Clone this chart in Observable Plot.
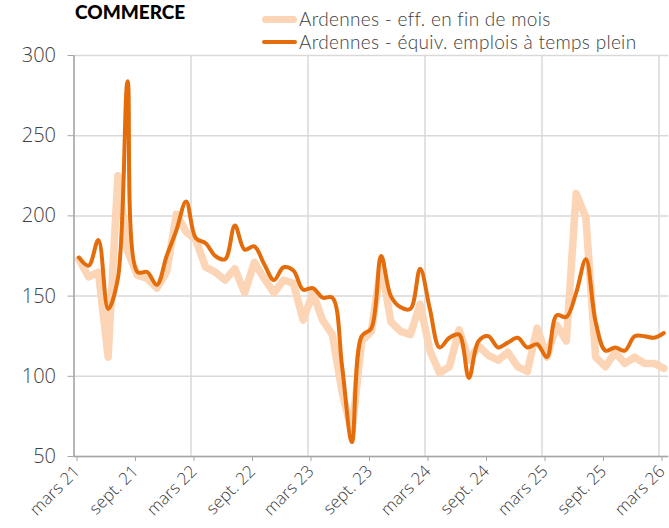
<!DOCTYPE html>
<html><head><meta charset="utf-8">
<script src="https://cdn.jsdelivr.net/npm/d3@7"></script>
<script src="https://cdn.jsdelivr.net/npm/@observablehq/plot@0.6"></script>
<style>
body{margin:0;background:#fff;}
#wrap{position:relative;width:669px;height:528px;font-family:"Open Sans",sans-serif;}
#title{position:absolute;left:75px;top:0px;line-height:24px;font-family:Lato,"Open Sans",sans-serif;font-weight:900;font-size:19px;letter-spacing:0px;color:#000;}
.leg{position:absolute;left:262px;height:20px;line-height:20px;display:flex;align-items:center;font-family:Lato,sans-serif;font-weight:300;font-size:19px;letter-spacing:0.3px;color:#404040;white-space:nowrap;}
.sw{display:inline-block;width:35px;margin-right:2px;border-radius:4px;}
</style></head><body>
<div id="wrap"><div id="chart"></div></div>
<script>
// Data (monthly, March 2021 -> March 2026)
const tickLabels = ["mars 21","sept. 21","mars 22","sept. 22","mars 23","sept. 23","mars 24","sept. 24","mars 25","sept. 25","mars 26"];
const seriesNames = ["Ardennes - eff. en fin de mois","Ardennes - équiv. emplois à temps plein"];
const effFinMois = [173,162,165,112,225,178,163,161,155,165,201,190,185,168,165,160,167,152,171,161,152,160,158,135,152,135,126,90,65,122,128,170,134,128,126,145,116,102,106,129,110,119,113,110,115,106,103,130,112,132,122,214,199,112,106,115,108,112,108,108,105];
const etpEquiv = [174,169,185,142,161,284,165,165,157,175,191,209,186,183,175,173,194,179,181,170,160,168,166,154,155,149,149,106,59,125,130,175,150,143,142,167,142,118,124,126,99,122,125,118,121,124,118,120,112,138,137,152,173,134,116,118,116,125,125,124,127];
const yTicks = [50,100,150,200,250,300];

const n = effFinMois.length;
const tickMonths = tickLabels.map((_, k) => k * 6);
const gridMonths = tickMonths.filter(m => m % 12 === 0);
const rows = (arr) => arr.map((v, i) => ({m: i + 0.5, v}));

const chart = Plot.plot({
  width: 669, height: 528,
  marginTop: 55, marginBottom: 72, marginLeft: 73.5, marginRight: 0.75,
  style: {fontFamily: "Open Sans, sans-serif", background: "white"},
  x: {type: "linear", domain: [0, n]},
  y: {domain: [50, 300]},
  marks: [
    Plot.gridY(yTicks, {stroke: "#d9d9d9", strokeOpacity: 1, strokeWidth: 1.5}),
    Plot.gridX(gridMonths, {stroke: "#d9d9d9", strokeOpacity: 1, strokeWidth: 1.5}),
    Plot.ruleX([0], {stroke: "#a6a6a6", strokeWidth: 1.5}),
    Plot.ruleY([50], {stroke: "#a6a6a6", strokeWidth: 1.5}),
    Plot.axisY(yTicks, {tickSize: 6, tickPadding: 12, fontSize: 20, fontWeight: 300, stroke: "#a6a6a6", fill: "#404040", label: null}),
    Plot.axisX(tickMonths, {tickSize: 5, tickPadding: 7, dx: 3, fontSize: 17, fontWeight: 300, tickRotate: -45, stroke: "#a6a6a6", fill: "#404040", label: null, tickFormat: (d) => tickLabels[d / 6]}),
    Plot.line(rows(effFinMois), {x: "m", y: "v", stroke: "#fbd5b5", strokeWidth: 7.5, strokeLinejoin: "round", strokeLinecap: "round"}),
    Plot.line(rows(etpEquiv), {x: "m", y: "v", stroke: "#e46c0a", strokeWidth: 4, curve: "catmull-rom", strokeLinejoin: "round", strokeLinecap: "round"})
  ]
});
document.getElementById("chart").appendChild(chart);

const wrap = document.getElementById("wrap");
const t = document.createElement("div");
t.id = "title"; t.textContent = "COMMERCE";
wrap.appendChild(t);
const legStyles = [{c: "#fbd5b5", h: 7, top: 9}, {c: "#e46c0a", h: 4, top: 32}];
seriesNames.forEach((name, k) => {
  const d = document.createElement("div");
  d.className = "leg"; d.style.top = legStyles[k].top + "px";
  const s = document.createElement("span");
  s.className = "sw"; s.style.height = legStyles[k].h + "px"; s.style.background = legStyles[k].c;
  d.appendChild(s);
  d.appendChild(document.createTextNode(name));
  wrap.appendChild(d);
});
</script>
</body></html>
